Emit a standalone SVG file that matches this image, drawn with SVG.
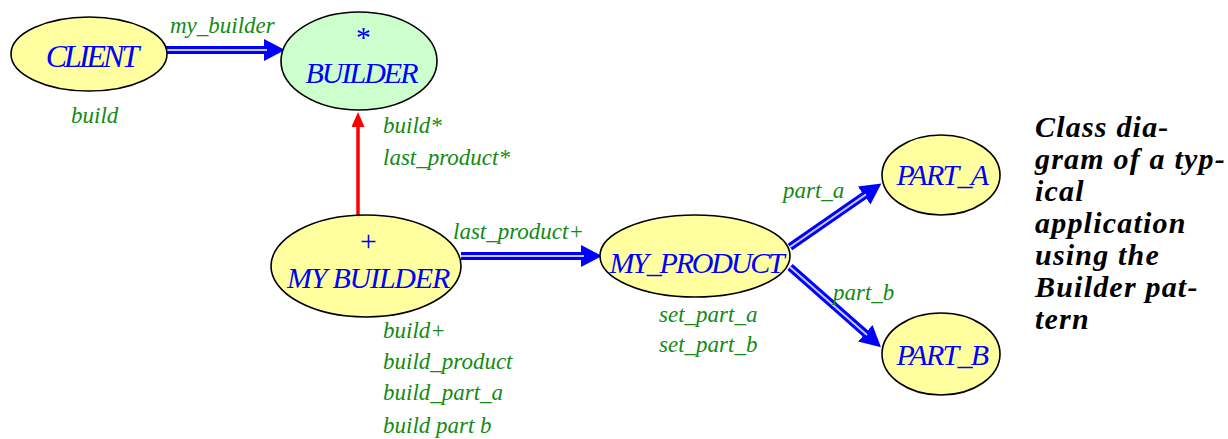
<svg xmlns="http://www.w3.org/2000/svg" width="1228" height="439" viewBox="0 0 1228 439">
<defs>
<style>
.node{fill:#ffff9f;stroke:#000;stroke-width:1.6}
.abs{fill:#ccffcc}
.name{font-family:'Liberation Serif','Times New Roman','DejaVu Serif',serif;font-style:italic;font-size:30px;fill:#0000ff;text-anchor:middle}
.feat{font-family:'Liberation Serif','Times New Roman','DejaVu Serif',serif;font-style:italic;font-size:23px;fill:#138a13}
.cap{font-family:'Liberation Serif','Times New Roman','DejaVu Serif',serif;font-style:italic;font-weight:bold;font-size:30px;letter-spacing:1.2px;fill:#000}
.outer{stroke:#0000ff;stroke-width:8;fill:none}
.inner{stroke:#c8c8ff;stroke-width:2;fill:none}
.inh{stroke:#ff0000;stroke-width:3.5;fill:none}
</style>
<marker id="bh" markerUnits="userSpaceOnUse" markerWidth="22" markerHeight="24" refX="1" refY="11" orient="auto">
<path d="M0,0 L21,11 L0,22 z" fill="#0000ff"/>
</marker>
<marker id="rh" markerUnits="userSpaceOnUse" markerWidth="16" markerHeight="14" refX="1" refY="6.5" orient="auto">
<path d="M0,0 L15,6.5 L0,13 z" fill="#ff0000"/>
</marker>
</defs>
<rect width="1228" height="439" fill="#fff"/>
<g id="connectors">
<line class="outer" x1="166" y1="50" x2="265" y2="50" marker-end="url(#bh)"/>
<line class="inner" x1="166" y1="50" x2="267" y2="50"/>
<line class="inh" x1="358" y1="215" x2="358" y2="126" marker-end="url(#rh)"/>
<line class="outer" x1="461" y1="256" x2="582" y2="256" marker-end="url(#bh)"/>
<line class="inner" x1="461" y1="256" x2="584" y2="256"/>
<line class="outer" x1="790" y1="247" x2="865" y2="195" marker-end="url(#bh)"/>
<line class="inner" x1="790" y1="247" x2="866" y2="194.4"/>
<line class="outer" x1="790" y1="267" x2="866" y2="334" marker-end="url(#bh)"/>
<line class="inner" x1="790" y1="267" x2="867" y2="335"/>
<text class="feat" x="170" y="33">my_builder</text>
<text class="feat" x="453" y="239">last_product+</text>
<text class="feat" x="783" y="198">part_a</text>
<text class="feat" x="833" y="300">part_b</text>
</g>
<g id="client">
<ellipse class="node" cx="89" cy="54" rx="78" ry="37"/>
<text class="name" x="91" y="67" style="font-size:32px;letter-spacing:-3px">CLIENT</text>
<text class="feat" x="71" y="123">build</text>
</g>
<g id="builder">
<ellipse class="node abs" cx="359" cy="61" rx="78" ry="49"/>
<text class="name" x="362" y="47">*</text>
<text class="name" x="361" y="83" style="letter-spacing:-2px">BUILDER</text>
<text class="feat" x="383" y="133">build*</text>
<text class="feat" x="383" y="165">last_product*</text>
</g>
<g id="my_builder">
<ellipse class="node" cx="366" cy="266" rx="95" ry="51"/>
<text class="name" x="368" y="251">+</text>
<text class="name" x="368" y="288" style="letter-spacing:-1.2px">MY BUILDER</text>
<text class="feat" x="383" y="338">build+</text>
<text class="feat" x="383" y="369">build_product</text>
<text class="feat" x="383" y="400">build_part_a</text>
<text class="feat" x="383" y="433">build part b</text>
</g>
<g id="my_product">
<ellipse class="node" cx="695" cy="256" rx="95" ry="41"/>
<text class="name" x="696" y="273" style="letter-spacing:-2.2px">MY_PRODUCT</text>
<text class="feat" x="659" y="322">set_part_a</text>
<text class="feat" x="659" y="352">set_part_b</text>
</g>
<g id="part_a">
<ellipse class="node" cx="941" cy="175" rx="59" ry="40"/>
<text class="name" x="942" y="185" style="letter-spacing:-1.7px">PART_A</text>
</g>
<g id="part_b">
<ellipse class="node" cx="941" cy="354" rx="59" ry="41"/>
<text class="name" x="942" y="365" style="letter-spacing:-1.7px">PART_B</text>
</g>
<g id="caption">
<text class="cap" x="1035" y="137">Class dia-</text>
<text class="cap" x="1035" y="169">gram of a typ-</text>
<text class="cap" x="1035" y="201">ical</text>
<text class="cap" x="1035" y="233">application</text>
<text class="cap" x="1035" y="265">using the</text>
<text class="cap" x="1035" y="297">Builder pat-</text>
<text class="cap" x="1035" y="329">tern</text>
</g>
</svg>
